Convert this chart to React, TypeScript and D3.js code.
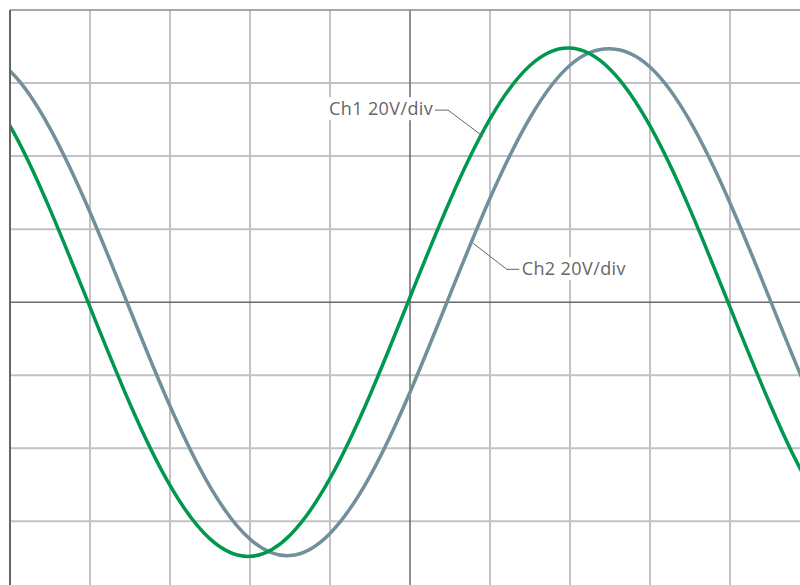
import React, { useEffect, useRef } from "react";
import * as d3 from "d3";

// time in divisions from screen centre (samples extend one step past the screen edges)
const timeDiv = [-5.5, -5, -4.5, -4, -3.5, -3, -2.5, -2, -1.5, -1, -0.5, 0, 0.5, 1, 1.5, 2, 2.5, 3, 3.5, 4, 4.5, 5, 5.5];
// Ch1 (green) in divisions
const ch1 = [3.189, 2.413, 1.27, -0.067, -1.393, -2.508, -3.24, -3.479, -3.189, -2.413, -1.27, 0.068, 1.393, 2.508, 3.24, 3.479, 3.189, 2.413, 1.27, -0.067, -1.393, -2.52, -3.25];
// Ch2 (blue-grey) in divisions
const ch2 = [3.469, 3.165, 2.38, 1.232, -0.103, -1.422, -2.525, -3.244, -3.469, -3.165, -2.38, -1.232, 0.103, 1.422, 2.525, 3.244, 3.469, 3.219, 2.478, 1.359, 0.034, -1.294, -2.427];

const xGrid = [-4, -3, -2, -1, 0, 1, 2, 3, 4];
const yGrid = [-3, -2, -1, 0, 1, 2, 3];

const labelNames = ["Ch1 20V/div", "Ch2 20V/div"];

const W = 800;
const H = 585;

export default function App() {
  const ref = useRef<SVGSVGElement | null>(null);

  useEffect(() => {
    document.body.style.margin = "0";
    const svg = d3.select(ref.current);
    svg.selectAll("*").remove();

    const x = d3.scaleLinear().domain([-5, 5]).range([10, 810]);
    const y = d3.scaleLinear().domain([-4, 4]).range([594.4, 10]);

    const defs = svg.append("defs");
    defs.append("clipPath").attr("id", "plot").append("rect")
      .attr("x", x(-5)).attr("y", y(4)).attr("width", W - x(-5)).attr("height", H - y(4));

    const g = svg.append("g").attr("clip-path", "url(#plot)");

    // grid
    g.selectAll("line.vx").data(xGrid.filter(d => d !== 0)).join("line")
      .attr("x1", d => x(d)).attr("x2", d => x(d)).attr("y1", y(4)).attr("y2", H)
      .attr("stroke", "#c2c2c6").attr("stroke-width", 2);
    g.selectAll("line.hy").data(yGrid.filter(d => d !== 0)).join("line")
      .attr("y1", d => y(d)).attr("y2", d => y(d)).attr("x1", x(-5)).attr("x2", W)
      .attr("stroke", "#c2c2c6").attr("stroke-width", 2);
    // centre axes
    g.append("line").attr("x1", x(0)).attr("x2", x(0)).attr("y1", y(4)).attr("y2", H)
      .attr("stroke", "#6a6a6a").attr("stroke-width", 1.5);
    g.append("line").attr("y1", y(0)).attr("y2", y(0)).attr("x1", x(-5)).attr("x2", W)
      .attr("stroke", "#6a6a6a").attr("stroke-width", 1.5);

    // borders
    svg.append("line").attr("x1", x(-5)).attr("x2", W).attr("y1", y(4)).attr("y2", y(4))
      .attr("stroke", "#8a8a8a").attr("stroke-width", 1.5);
    svg.append("line").attr("x1", x(-5)).attr("x2", x(-5)).attr("y1", y(4)).attr("y2", H)
      .attr("stroke", "#666").attr("stroke-width", 2);

    const line = d3.line<number>()
      .x((_, i) => x(timeDiv[i]))
      .y(d => y(d))
      .curve(d3.curveNatural);

    g.append("path").datum(ch2).attr("d", line).attr("fill", "none")
      .attr("stroke", "#71909c").attr("stroke-width", 3.5);
    g.append("path").datum(ch1).attr("d", line).attr("fill", "none")
      .attr("stroke", "#00984e").attr("stroke-width", 3.5);

    // labels: text anchor and leader points in data units
    const labels = [
      { name: labelNames[0], tx: 0.29, ty: 2.56, anchor: "end", pts: [[0.3125, 2.63], [0.475, 2.63], [0.9125, 2.27]] },
      { name: labelNames[1], tx: 1.396, ty: 0.37, anchor: "start", pts: [[1.366, 0.45], [1.21, 0.45], [0.79, 0.806]] },
    ];

    labels.forEach(l => {
      const lg = svg.append("g");
      const rect = lg.append("rect").attr("fill", "#fff");
      const t = lg.append("text")
        .attr("x", x(l.tx)).attr("y", y(l.ty))
        .attr("text-anchor", l.anchor)
        .attr("font-family", "'Open Sans', 'Noto Sans', sans-serif")
        .attr("font-size", 18)
        .attr("letter-spacing", 0.4)
        .attr("fill", "#666")
        .text(l.name);
      const bb = (t.node() as SVGTextElement).getBBox();
      rect.attr("x", bb.x - 3).attr("y", bb.y + 1).attr("width", bb.width + 6).attr("height", bb.height - 1);
      lg.append("path")
        .attr("d", d3.line()(l.pts.map(p => [x(p[0]), y(p[1])] as [number, number])))
        .attr("fill", "none").attr("stroke", "#666").attr("stroke-width", 1);
    });
  }, []);

  return <svg ref={ref} width={W} height={H} style={{ display: "block" }} />;
}
